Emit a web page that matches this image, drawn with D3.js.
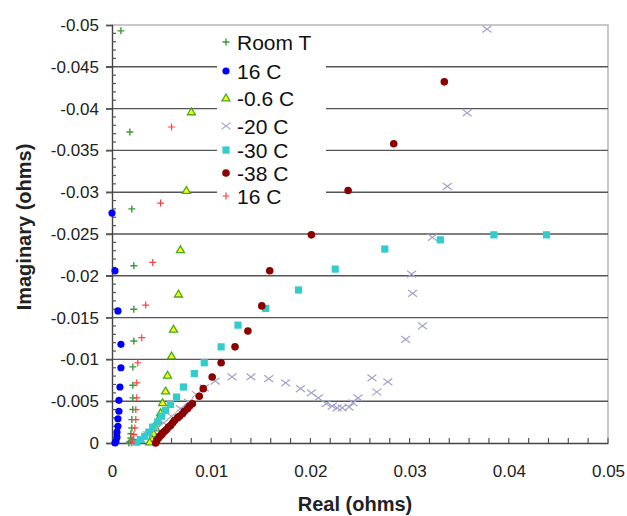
<!DOCTYPE html>
<html>
<head>
<meta charset="utf-8">
<script src="https://cdn.jsdelivr.net/npm/d3@7"></script>
<style>
	body { margin: 0; background: #fff; }
	text { font-family: "Liberation Sans", Arial, sans-serif; }
</style>
</head>
<body>
<svg id="fig" width="627" height="516"></svg>
<script>

// ======================================================================== //
// DATA ==================================================================== //
// ======================================================================== //

// [real, imaginary] pairs, ohms
var roomT = [[0.0009,-0.0493],[0.0018,-0.0372],[0.002,-0.028],[0.0022,-0.0212],[0.0022,-0.016],[0.0022,-0.0122],
	[0.0021,-0.0091],[0.0021,-0.0069],[0.0021,-0.0054],[0.0021,-0.004],[0.002,-0.0028],[0.002,-0.0018],
	[0.0019,-0.0011],[0.0019,-0.0006],[0.0018,-0.0002],[0.0017,0]];

var c16 = [[0.0,-0.0275],[0.0003,-0.0206],[0.0006,-0.0158],[0.0009,-0.0118],[0.0009,-0.009],[0.0008,-0.0067],
	[0.0007,-0.0051],[0.0007,-0.0038],[0.0006,-0.0029],[0.0006,-0.002],[0.0005,-0.0013],[0.0005,-0.0007],
	[0.0004,-0.0002],[0.0003,0]];

var cm06 = [[0.008,-0.0396],[0.0075,-0.0302],[0.0069,-0.0231],[0.0067,-0.0178],[0.0062,-0.0136],[0.006,-0.0104],
	[0.0056,-0.0081],[0.0054,-0.0062],[0.0051,-0.0048],[0.0049,-0.0036],[0.0046,-0.0027],[0.0044,-0.0018],
	[0.0042,-0.0011],[0.004,-0.0005],[0.0038,-0.0001]];

var cm20 = [[0.0378,-0.0495],[0.0358,-0.0395],[0.0338,-0.0307],[0.0323,-0.0246],[0.0302,-0.0202],[0.0303,-0.0179],
	[0.0313,-0.014],[0.0296,-0.0124],[0.0278,-0.0073],[0.0262,-0.0078],[0.0267,-0.0061],[0.0248,-0.0054],
	[0.0243,-0.0048],[0.0239,-0.0043],[0.0232,-0.0042],[0.0227,-0.0042],[0.0222,-0.0044],[0.0216,-0.0047],
	[0.0208,-0.0054],[0.0201,-0.006],[0.019,-0.0065],[0.0175,-0.0072],[0.0158,-0.0077],[0.014,-0.0079],
	[0.0121,-0.0079],[0.0104,-0.0074],[0.0093,-0.0066],[0.0085,-0.0058],[0.0077,-0.0049],[0.0069,-0.0041],
	[0.006,-0.0032],[0.0052,-0.0024],[0.0044,-0.0017],[0.0036,-0.001],[0.0029,-0.0005],[0.0022,-0.0001]];

var cm30 = [[0.0438,-0.0249],[0.0385,-0.0249],[0.0331,-0.0243],[0.0275,-0.0232],[0.0225,-0.0208],[0.0188,-0.0183],
	[0.0155,-0.0161],[0.0127,-0.0141],[0.011,-0.0115],[0.0093,-0.0096],[0.0083,-0.0083],[0.0072,-0.0067],
	[0.0065,-0.0055],[0.0059,-0.0046],[0.0054,-0.0039],[0.005,-0.0032],[0.0046,-0.0025],[0.0041,-0.0019],
	[0.0037,-0.0013],[0.0033,-0.0008],[0.0029,-0.0004],[0.0025,-0.0001]];

var cm38 = [[0.0335,-0.0432],[0.0284,-0.0358],[0.0238,-0.0302],[0.0201,-0.0249],[0.0159,-0.0206],[0.0151,-0.0164],
	[0.0137,-0.0134],[0.0124,-0.0115],[0.011,-0.0096],[0.0101,-0.0079],[0.0092,-0.0065],[0.0088,-0.0056],
	[0.0081,-0.0047],[0.0078,-0.0044],[0.0076,-0.0041],[0.0073,-0.0038],[0.0071,-0.0035],[0.0068,-0.0032],
	[0.0066,-0.003],[0.0063,-0.0027],[0.0061,-0.0024],[0.0059,-0.0021],[0.0057,-0.0019],[0.0055,-0.0016],
	[0.0053,-0.0014],[0.0051,-0.0012],[0.005,-0.001],[0.0048,-0.0008],[0.0047,-0.0006],[0.0045,-0.0003],[0.0044,0]];

var c16b = [[0.006,-0.0378],[0.0049,-0.0287],[0.0041,-0.0216],[0.0034,-0.0165],[0.003,-0.0126],[0.0026,-0.0096],
	[0.0025,-0.0072],[0.0025,-0.0054],[0.0024,-0.004],[0.0024,-0.0028],[0.0023,-0.0018],[0.0022,-0.001],
	[0.0021,-0.0004],[0.002,0]];

var seriesNames = ["Room T", "16 C", "-0.6 C", "-20 C", "-30 C", "-38 C", "16 C"];
var xTicks = [0, 0.01, 0.02, 0.03, 0.04, 0.05];
var yTicks = [0, -0.005, -0.01, -0.015, -0.02, -0.025, -0.03, -0.035, -0.04, -0.045, -0.05];

// ======================================================================== //
// SETUP =================================================================== //
// ======================================================================== //

var m = [25, 19, 73, 112],
	width = 627,
	height = 516;

var svg = d3.select("#fig");

var xScale = d3.scaleLinear().domain([0, 0.05]).range([m[3], width - m[1]]),
	yScale = d3.scaleLinear().domain([0, -0.05]).range([height - m[2], m[0]]);

// marker styles per series
var styles = [
	{shape: "plus", size: 7, stroke: "#3a9a3a", fill: "none", sw: 1.4},
	{shape: "circle", size: 3.6, stroke: "none", fill: "#0000ff"},
	{shape: "triangle", size: 4, stroke: "#44aa22", fill: "#ffff00", sw: 1.3},
	{shape: "cross", size: 4.5, stroke: "#a3a3cc", fill: "none", sw: 1.2},
	{shape: "square", size: 3.6, stroke: "none", fill: "#33cccc"},
	{shape: "circle", size: 3.8, stroke: "none", fill: "#8b0000"},
	{shape: "plus", size: 7, stroke: "#ff4040", fill: "none", sw: 1.2}
];
var allSeries = [roomT, c16, cm06, cm20, cm30, cm38, c16b];

function markerPath(shape, s) {
	if (shape == "plus") return `M ${-s/2} 0 L ${s/2} 0 M 0 ${-s/2} L 0 ${s/2}`;
	if (shape == "cross") return `M ${-s} ${-s*0.75} L ${s} ${s*0.75} M ${-s} ${s*0.75} L ${s} ${-s*0.75}`;
	if (shape == "triangle") return `M 0 ${-s} L ${s} ${s*0.7} L ${-s} ${s*0.7} Z`;
	if (shape == "square") return `M ${-s} ${-s} L ${s} ${-s} L ${s} ${s} L ${-s} ${s} Z`;
	return d3.symbol().type(d3.symbolCircle).size(Math.PI * s * s)();
}

// ======================================================================== //
// DRAW ==================================================================== //
// ======================================================================== //

// plot frame (top and right edges light grey)
svg.append("path")
	.attr("d", `M ${xScale(0)} ${yScale(-0.05)} L ${xScale(0.05)} ${yScale(-0.05)} L ${xScale(0.05)} ${yScale(0)}`)
	.attr("fill", "none")
	.attr("stroke", "#b8b8b8")
	.attr("stroke-width", 1.5);

// gridlines
svg.append("g")
	.selectAll("line")
	.data(yTicks.filter(d => d != 0 && d != -0.05))
	.enter()
	.append("line")
	.attr("x1", xScale(0) - 6)
	.attr("x2", xScale(0.05))
	.attr("y1", d => yScale(d))
	.attr("y2", d => yScale(d))
	.attr("stroke", "#555")
	.attr("stroke-width", 1.4);

// y axis
var yAxis = d3.axisLeft(yScale)
	.tickValues(yTicks)
	.tickSize(6)
	.tickPadding(7)
	.tickFormat(d => d == 0 ? "0" : String(+d.toFixed(3)));

var gy = svg.append("g")
	.attr("transform", `translate(${xScale(0)},0)`)
	.call(yAxis);
gy.select(".domain").attr("stroke", "#444").attr("stroke-width", 1.4);
gy.selectAll(".tick line").attr("stroke", "#555").attr("stroke-width", 1.4);
gy.selectAll(".tick text")
	.attr("font-size", 17)
	.attr("fill", "#222")
	.style("font-family", "Liberation Sans, Arial, sans-serif");

// y minor ticks (inside)
svg.append("g")
	.selectAll("line")
	.data(d3.range(1, 50).filter(i => i % 5 != 0).map(i => -i * 0.001))
	.enter()
	.append("line")
	.attr("x1", xScale(0))
	.attr("x2", xScale(0) + 4)
	.attr("y1", d => yScale(d))
	.attr("y2", d => yScale(d))
	.attr("stroke", "#555")
	.attr("stroke-width", 1.2);

// x axis
var xAxis = d3.axisBottom(xScale)
	.tickValues(xTicks)
	.tickSize(0)
	.tickPadding(22)
	.tickFormat(d => d == 0 ? "0" : String(+d.toFixed(2)));

var gx = svg.append("g")
	.attr("transform", `translate(0,${yScale(0)})`)
	.call(xAxis);
gx.select(".domain").attr("stroke", "#444").attr("stroke-width", 1.4);
gx.selectAll(".tick text")
	.attr("font-size", 17)
	.attr("fill", "#222")
	.style("font-family", "Liberation Sans, Arial, sans-serif");

// x minor ticks (inside, pointing up)
svg.append("g")
	.selectAll("line")
	.data(d3.range(1, 26).map(i => i * 0.002))
	.enter()
	.append("line")
	.attr("x1", d => xScale(d))
	.attr("x2", d => xScale(d))
	.attr("y1", yScale(0))
	.attr("y2", yScale(0) - 5)
	.attr("stroke", "#555")
	.attr("stroke-width", 1.2);

// axis titles
svg.append("text")
	.attr("x", 355)
	.attr("y", 511)
	.attr("text-anchor", "middle")
	.attr("font-size", 20)
	.attr("font-weight", "bold")
	.attr("fill", "#222")
	.text("Real (ohms)");

svg.append("text")
	.attr("transform", `translate(31,227) rotate(-90)`)
	.attr("text-anchor", "middle")
	.attr("font-size", 20)
	.attr("font-weight", "bold")
	.attr("fill", "#222")
	.text("Imaginary (ohms)");

// legend background hides the gridlines behind it
svg.append("rect")
	.attr("x", 217)
	.attr("y", 27)
	.attr("width", 109)
	.attr("height", 178)
	.attr("fill", "#fff");

// markers, drawn in legend order
allSeries.forEach(function(data, k) {
	let st = styles[k];
	svg.append("g")
		.selectAll("path")
		.data(data)
		.enter()
		.append("path")
		.attr("transform", d => `translate(${xScale(d[0])},${yScale(d[1])})`)
		.attr("d", markerPath(st.shape, st.size))
		.attr("fill", st.fill)
		.attr("stroke", st.stroke)
		.attr("stroke-width", st.sw || 0);
});

// legend entries
var legendY = [42, 71, 98, 126, 150, 173, 196];

var legend = svg.append("g")
	.selectAll("g")
	.data(seriesNames)
	.enter()
	.append("g")
	.attr("transform", (d, i) => `translate(226,${legendY[i]})`);

legend.append("path")
	.attr("d", (d, i) => markerPath(styles[i].shape, styles[i].size))
	.attr("fill", (d, i) => styles[i].fill)
	.attr("stroke", (d, i) => styles[i].stroke)
	.attr("stroke-width", (d, i) => styles[i].sw || 0);

legend.append("text")
	.attr("x", 11)
	.attr("y", 0)
	.attr("dy", "0.36em")
	.attr("font-size", 21)
	.attr("fill", "#111")
	.text(d => d);

</script>
</body>
</html>
